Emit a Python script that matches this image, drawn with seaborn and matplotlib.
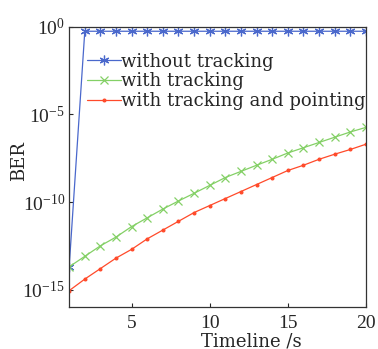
import matplotlib
matplotlib.use("Agg")
import matplotlib.pyplot as plt
import seaborn as sns
import numpy as np
import pandas as pd

sns.set_style("ticks")
plt.rcParams['font.family'] = ['DejaVu Serif']
plt.rcParams['mathtext.fontset'] = 'stix'
plt.rcParams['xtick.direction'] = 'in'
plt.rcParams['ytick.direction'] = 'in'

# 数据（log10 BER，按图读取）
timeline = list(range(1, 21))
log_ber_without = [-13.7] + [-0.25] * 19
log_ber_tracking = [-13.7, -13.1, -12.5, -12.0, -11.4, -10.9, -10.4, -9.94, -9.5, -9.05,
                    -8.6, -8.25, -7.9, -7.56, -7.2, -6.9, -6.6, -6.3, -6.0, -5.74]
log_ber_pointing = [-15.06, -14.4, -13.8, -13.2, -12.7, -12.1, -11.6, -11.1, -10.6, -10.2,
                    -9.8, -9.4, -9.0, -8.6, -8.2, -7.9, -7.56, -7.27, -7.0, -6.7]

series_labels = ['without tracking', 'with tracking', 'with tracking and pointing']

df = pd.DataFrame({
    'Timeline': timeline * 3,
    'BER': np.power(10.0, log_ber_without + log_ber_tracking + log_ber_pointing),
    'series': [series_labels[0]] * 20 + [series_labels[1]] * 20 + [series_labels[2]] * 20,
})

fig, ax = plt.subplots(figsize=(3.78, 3.49), dpi=100)

palette = {series_labels[0]: '#4a68cc', series_labels[1]: '#84d066', series_labels[2]: '#ff4a2a'}
markers = {series_labels[0]: (6, 2, 0), series_labels[1]: 'x', series_labels[2]: '.'}
sizes = {series_labels[0]: 7, series_labels[1]: 6, series_labels[2]: 4}

for name in series_labels:
    sub = df[df['series'] == name]
    sns.lineplot(data=sub, x='Timeline', y='BER', ax=ax, color=palette[name],
                 marker=markers[name], markersize=sizes[name], linewidth=0.9,
                 markeredgecolor=palette[name], markeredgewidth=0.9, label=name)

ax.set_yscale('log')
ax.set_xlim(1, 20)
ax.set_ylim(10 ** -16, 1)
ax.set_yticks([1e0, 1e-5, 1e-10, 1e-15])
ax.yaxis.set_minor_locator(matplotlib.ticker.NullLocator())
ax.set_xticks([5, 10, 15, 20])
ax.tick_params(labelsize=14, length=3, width=0.8, pad=3)
ax.tick_params(axis='x', pad=6)
for lbl in ax.get_xticklabels() + ax.get_yticklabels():
    lbl.set_fontfamily('Liberation Serif')
for spine in ax.spines.values():
    spine.set_linewidth(0.9)
    spine.set_color('#333333')

ax.set_xlabel('Timeline /s', fontsize=13)
ax.set_ylabel('BER', fontsize=13)
ax.xaxis.set_label_coords(0.615, -0.09)
ax.yaxis.set_label_coords(-0.14, 0.52)

ax.legend(loc='upper left', bbox_to_anchor=(0.01, 0.96), frameon=False, fontsize=13,
          handlelength=1.9, handletextpad=0.0, labelspacing=0.1, borderaxespad=0.4)

fig.subplots_adjust(left=0.183, right=0.968, top=0.923, bottom=0.12)
fig.savefig('out.png', dpi=100)
